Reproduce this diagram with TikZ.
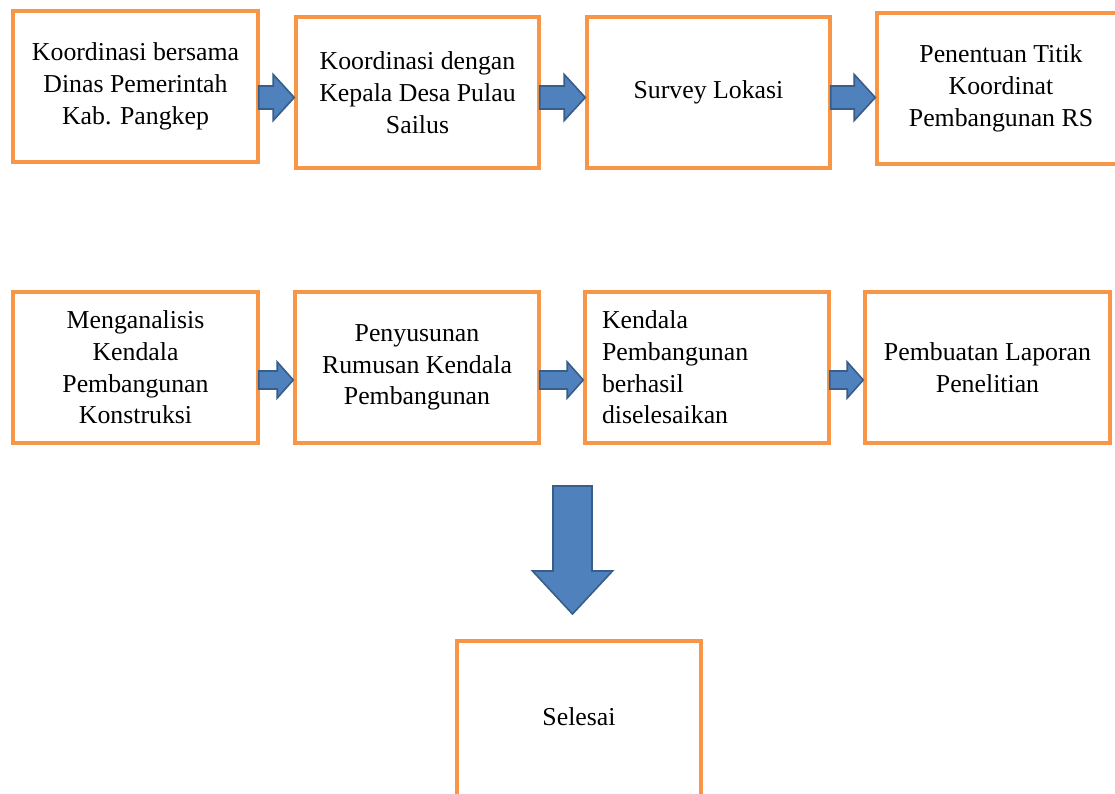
\documentclass[tikz,border=0pt]{standalone}
\usepackage{fontspec}
\setmainfont{Liberation Serif}
\usetikzlibrary{calc}
\definecolor{boxorange}{HTML}{F79646}
\definecolor{arrfill}{HTML}{4F81BD}
\definecolor{arrline}{HTML}{385D8A}
\tikzset{
  stepbox/.style={draw=boxorange, line width=3.5pt, fill=white, minimum width=245pt,
    minimum height=151pt, align=center, inner sep=0pt,
    font=\fontsize{25.8pt}{31.7pt}\selectfont},
  blk/.style={fill=arrfill, draw=arrline, line width=1.6pt, line join=miter}
}
% #1 from node, #2 to node, #3 level coordinate, #4 shaft half height, #5 head half height, #6 head length
\newcommand{\hblk}[6]{%
  \draw[blk] ($(#1.east |- #3)+(-1,-#4)$) -- ($(#2.west |- #3)+(-#6,-#4)$)
    -- ($(#2.west |- #3)+(-#6,-#5)$) -- (#2.west |- #3)
    -- ($(#2.west |- #3)+(-#6,#5)$) -- ($(#2.west |- #3)+(-#6,#4)$)
    -- ($(#1.east |- #3)+(-1,#4)$) -- cycle;}
\begin{document}
\begin{tikzpicture}[x=1pt,y=-1pt]
\useasboundingbox (0,0) rectangle (1115,793);
\clip (0,0) rectangle (1115,793);
\fill[white] (0,0) rectangle (1115,793);

\node[stepbox] (b1) at (135.5,86.5) {Koordinasi bersama\\Dinas Pemerintah\\Kab. Pangkep};
\node[stepbox, minimum width=243pt] (b2) at (417.5,92.5) {Koordinasi dengan\\Kepala Desa Pulau\\Sailus};
\node[stepbox, minimum width=243pt] (b3) at (708.5,92.5) {Survey Lokasi};
\node[stepbox, minimum width=248pt] (b4) at (1001,88.5) {Penentuan Titik\\Koordinat\\Pembangunan RS};

\node[stepbox] (b5) at (135.5,367.5) {Menganalisis\\Kendala\\Pembangunan\\Konstruksi};
\node[stepbox, minimum width=244pt] (b6) at (417,367.5) {Penyusunan\\Rumusan Kendala\\Pembangunan};
\node[stepbox, minimum width=244pt, text width=210pt, align=left] (b7) at (707,367.5) {Kendala\\Pembangunan\\berhasil\\diselesaikan};
\node[stepbox] (b8) at (987.5,367.5) {Pembuatan Laporan\\Penelitian};

\node[stepbox, minimum width=244pt, minimum height=162pt] (b9) at (579,722) {\raisebox{11pt}{Selesai}};

\coordinate (r1) at (0,97.5);
\coordinate (r2) at (0,380);
\hblk{b1}{b2}{r1}{11.5}{23}{21}
\hblk{b2}{b3}{r1}{11.5}{23}{21}
\hblk{b3}{b4}{r1}{11.5}{23}{21}
\hblk{b5}{b6}{r2}{9}{18}{16}
\hblk{b6}{b7}{r2}{9}{18}{16}
\hblk{b7}{b8}{r2}{9}{18}{16}

\coordinate (d1) at (572.5,486);
\coordinate (d2) at (572.5,614);
\draw[blk] ($(d1)+(-19.5,0)$) -- ($(d2)+(-19.5,-43)$) -- ($(d2)+(-40,-43)$) -- (d2)
  -- ($(d2)+(40,-43)$) -- ($(d2)+(19.5,-43)$) -- ($(d1)+(19.5,0)$) -- cycle;
\end{tikzpicture}
\end{document}
